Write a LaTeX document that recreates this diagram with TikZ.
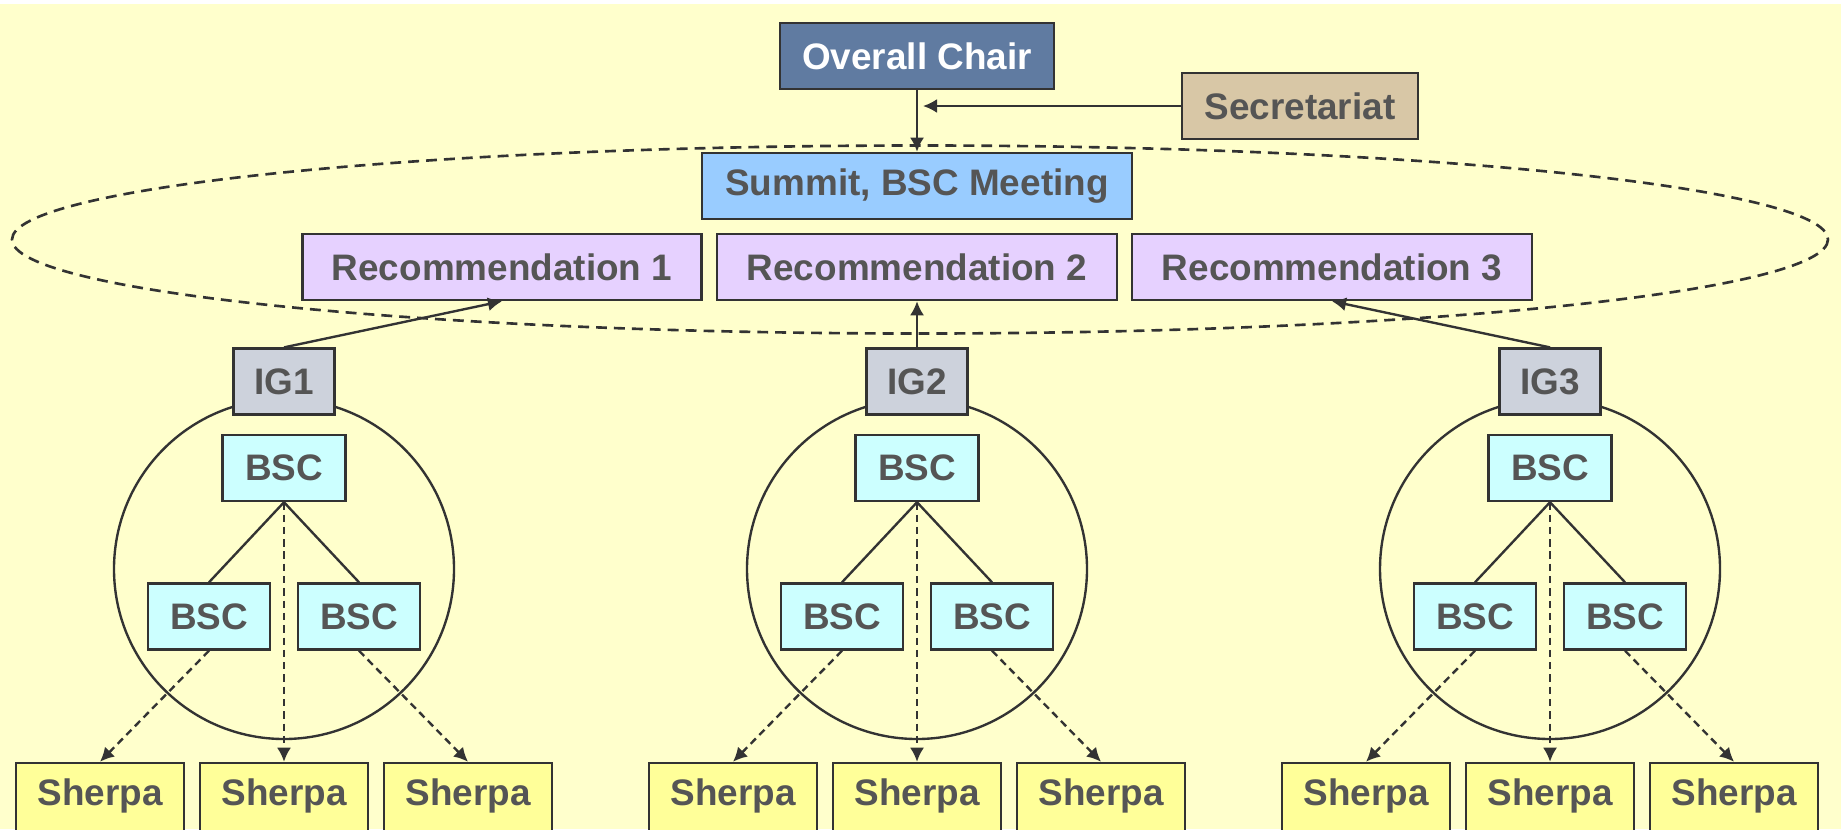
\documentclass[tikz,border=0pt]{standalone}
\usepackage{fontspec}
\setmainfont{Liberation Sans}
\usetikzlibrary{arrows.meta}
\definecolor{bg}{HTML}{FFFFCC}
\definecolor{bd}{HTML}{333333}
\definecolor{tx}{HTML}{555555}
\definecolor{chairc}{HTML}{607BA1}
\definecolor{secc}{HTML}{D8C7A6}
\definecolor{summitc}{HTML}{99CCFF}
\definecolor{recc}{HTML}{E6D1FF}
\definecolor{igc}{HTML}{CDD2DC}
\definecolor{bscc}{HTML}{CCFFFF}
\definecolor{sherpac}{HTML}{FFFF99}
\tikzset{
  box/.style={draw=bd, line width=1.4pt, inner sep=0pt, minimum height=1.32cm,
    font=\fontsize{21}{25}\selectfont\bfseries, text=tx},
  con/.style={draw=bd, line width=1.35pt},
  arr/.style={con, -{Latex[length=8pt,width=8pt]}},
  darr/.style={arr, dash pattern=on 4.2pt off 2.8pt},
  dline/.style={draw=bd, line width=1.5pt, dash pattern=on 6.2pt off 4pt}
}
\begin{document}
\begin{tikzpicture}[x=0.02cm,y=-0.02cm]
\useasboundingbox (0,0) rectangle (1841,829);
\fill[white] (0,0) rectangle (1841,829);
\fill[bg] (0,4) rectangle (1841,829);
% dashed ellipse
\draw[dline] (920,239.5) ellipse [x radius=908, y radius=94];
% circles
\foreach \cx in {284,917,1550} {
  \draw[con] (\cx,569) circle [radius=170];
}
% top nodes
\node[box, fill=chairc, text=white, minimum width=5.48cm] (chair) at (917,56) {Overall Chair};
\node[box, fill=secc, minimum width=4.72cm] (sec) at (1300,106) {Secretariat};
\node[box, fill=summitc, minimum width=8.6cm] (summit) at (917,186) {Summit, BSC Meeting};
\node[box, fill=recc, minimum width=7.98cm] (rec1) at (502,267) {Recommendation 1};
\node[box, fill=recc, minimum width=8.0cm] (rec2) at (917,267) {Recommendation 2};
\node[box, fill=recc, minimum width=8.0cm] (rec3) at (1332,267) {Recommendation 3};
\coordinate (sectip) at (923,106);
\draw[arr] (chair.south) -- (summit.north);
\draw[arr] (sec.west) -- (sectip);
% groups
\foreach \g/\cx in {1/284,2/917,3/1550} {
  \node[box, fill=igc, minimum width=2.02cm] (ig\g) at (\cx,381.6) {IG\g};
  \node[box, fill=bscc, minimum width=2.46cm] (bt\g) at (\cx,468) {BSC};
  \node[box, fill=bscc, minimum width=2.44cm] (bl\g) at (\cx-75,616.5) {BSC};
  \node[box, fill=bscc, minimum width=2.44cm] (br\g) at (\cx+75,616.5) {BSC};
  \node[box, fill=sherpac, minimum width=3.36cm, minimum height=1.5cm] (sl\g) at (\cx-184,800.5) {};
  \node[box, fill=sherpac, minimum width=3.36cm, minimum height=1.5cm] (sm\g) at (\cx,800.5) {};
  \node[box, fill=sherpac, minimum width=3.36cm, minimum height=1.5cm] (sr\g) at (\cx+184,800.5) {};
  \node[font=\fontsize{21}{25}\selectfont\bfseries, text=tx, inner sep=0pt] (tl\g) at (\cx-184,796) {Sherpa};
  \node[font=\fontsize{21}{25}\selectfont\bfseries, text=tx, inner sep=0pt] (tm\g) at (\cx,796) {Sherpa};
  \node[font=\fontsize{21}{25}\selectfont\bfseries, text=tx, inner sep=0pt] (tr\g) at (\cx+184,796) {Sherpa};
  \draw[arr] (ig\g.north) -- (rec\g.south);
  \draw[con] (bt\g.south) -- (bl\g.north);
  \draw[con] (bt\g.south) -- (br\g.north);
  \draw[darr] (bt\g.south) -- (sm\g.north);
  \draw[darr] (bl\g.south) -- (sl\g.north);
  \draw[darr] (br\g.south) -- (sr\g.north);
}
\end{tikzpicture}
\end{document}
